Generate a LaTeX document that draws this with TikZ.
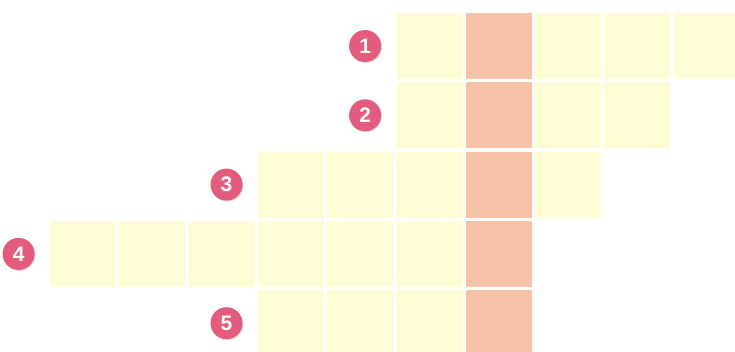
\documentclass[tikz,border=0pt]{standalone}
\usepackage{fontspec}
\setsansfont{Liberation Sans}
\usetikzlibrary{positioning,shadows}
\definecolor{amarillo}{HTML}{FEFCD5}
\definecolor{salmon}{HTML}{F7C3A8}
\definecolor{rosa}{HTML}{E45C7D}

\begin{document}
\begin{tikzpicture}[x=1pt, y=-1pt,
  casilla/.style={fill=amarillo, minimum size=66pt, inner sep=0pt},
  clave/.style={casilla, fill=salmon},
  numero/.style={circle, fill=rosa, text=white, minimum size=32pt, inner sep=0pt,
                 drop shadow={opacity=0.25, shadow xshift=1pt, shadow yshift=-1pt},
                 font=\sffamily\bfseries\fontsize{21}{21}\selectfont}
]
  \useasboundingbox (0,0) rectangle (735,352);
  % fila / primera columna / ultima columna
  \foreach \r/\ini/\fin in {1/5/9, 2/5/8, 3/3/7, 4/0/6, 5/3/6} {
    \foreach \c in {\ini,...,\fin} {
      \ifnum\c=6 \def\estilo{clave}\else\def\estilo{casilla}\fi
      \node[\estilo] (c\r-\c) at ({83+69.3*\c}, {46+69.3*(\r-1)}) {};
    }
    \node[numero, left=15pt of c\r-\ini] (n\r) {\r};
  }
\end{tikzpicture}
\end{document}
